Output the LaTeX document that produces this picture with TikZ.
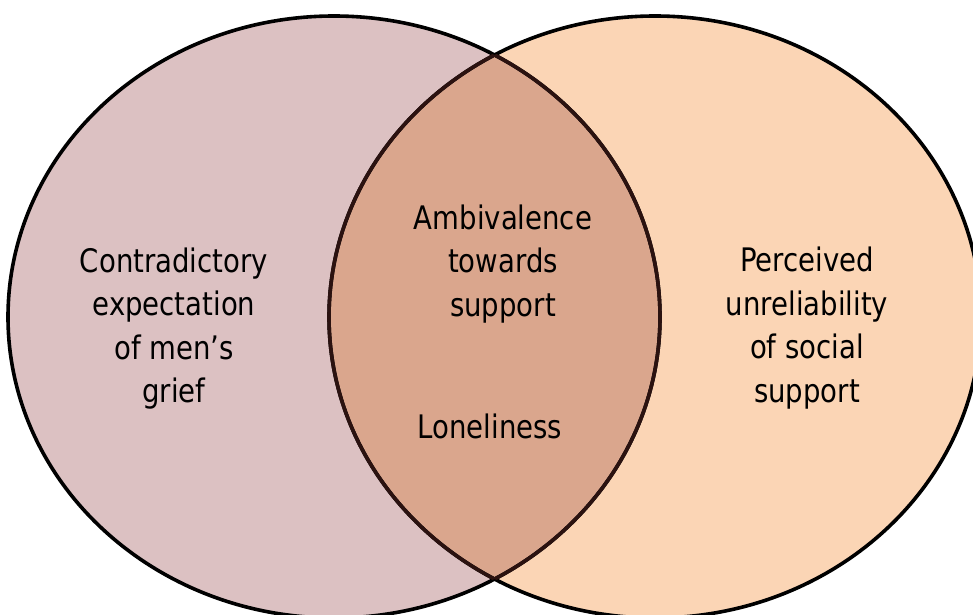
\documentclass[tikz,border=0pt]{standalone}
\usepackage{fontspec}
\setmainfont[FakeStretch=0.85]{DejaVu Sans}
\definecolor{griefpink}{HTML}{DCC1C2}
\definecolor{supportpeach}{HTML}{FBD5B5}
\definecolor{lenstan}{HTML}{DAA68D}
\definecolor{lensedge}{HTML}{2B1210}
\begin{document}
\begin{tikzpicture}[x=1pt, y=1pt, line join=round, line cap=round,
	rim/.style={line width=3.6pt},
	lbl/.style={align=center, inner sep=0pt, font=\fontsize{32.4}{43.5}\selectfont}]
	\def\rx{326pt} \def\ry{301pt} % half axes of both ellipses
	\coordinate (L) at (334,297);
	\coordinate (R) at (655,297);
	\useasboundingbox (0,0) rectangle (973,614);
	\clip (0,0) rectangle (973,614);
	% fills
	\fill[griefpink] (L) ellipse[x radius=\rx, y radius=\ry];
	\fill[supportpeach] (R) ellipse[x radius=\rx, y radius=\ry];
	\begin{scope}
		\clip (L) ellipse[x radius=\rx, y radius=\ry];
		\fill[lenstan] (R) ellipse[x radius=\rx, y radius=\ry];
	\end{scope}
	% outlines, darker brown inside the overlap
	\draw[rim] (L) ellipse[x radius=\rx, y radius=\ry];
	\draw[rim] (R) ellipse[x radius=\rx, y radius=\ry];
	\begin{scope}
		\clip (R) ellipse[x radius=\rx, y radius=\ry];
		\draw[rim, lensedge] (L) ellipse[x radius=\rx, y radius=\ry];
	\end{scope}
	\begin{scope}
		\clip (L) ellipse[x radius=\rx, y radius=\ry];
		\draw[rim, lensedge] (R) ellipse[x radius=\rx, y radius=\ry];
	\end{scope}
	% labels
	\node[lbl] (grief) at (174,285.5) {Contradictory\\expectation\\of men’s\\grief};
	\node[lbl] (ambiv) at (503,350) {Ambivalence\\towards\\support};
	\node[lbl, anchor=base] (lonely) at (490,176) {Loneliness};
	\node[lbl] (unrel) at (807,286) {Perceived\\unreliability\\of social\\support};
\end{tikzpicture}
\end{document}
